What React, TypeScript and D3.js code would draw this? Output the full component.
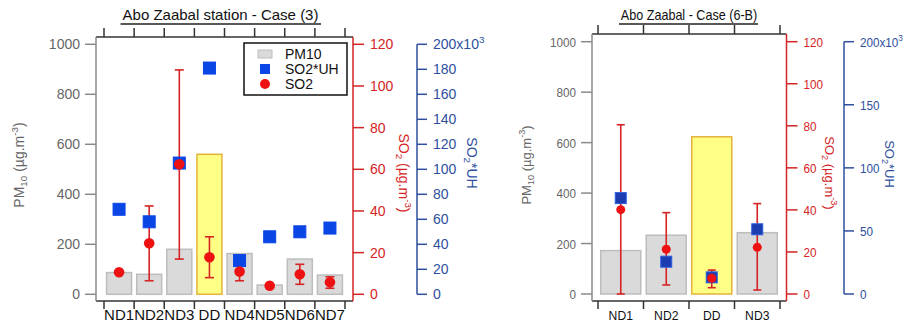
import React from "react";
import * as d3 from "d3";

// ---------- data: left panel ----------
const leftTitle = "Abo Zaabal station - Case (3)";
const leftCategories = ["ND1", "ND2", "ND3", "DD", "ND4", "ND5", "ND6", "ND7"];
const leftPM10 = [87, 80, 180, 560, 163, 37, 141, 77];
const leftSO2UH = [68000, 58000, 105000, 181000, 27000, 46000, 50000, 53000];
const leftSO2 = [10.6, 24.5, 62.4, 17.8, 10.9, 4.1, 9.6, 5.8];
const leftSO2High: (number | null)[] = [null, 42.4, 107.7, 27.6, 16.1, null, 14.4, 8.4];
const leftSO2Low: (number | null)[] = [null, 6.5, 16.9, 8.0, 6.5, null, 4.8, 2.9];

// ---------- data: right panel ----------
const rightTitle = "Abo Zaabal - Case (6-B)";
const rightCategories = ["ND1", "ND2", "DD", "ND3"];
const rightPM10 = [172, 233, 623, 243];
const rightSO2UH = [76000, 25600, 13200, 51300];
const rightSO2 = [40.1, 21.3, 7.5, 22.2];
const rightSO2High: (number | null)[] = [80.5, 38.7, 11.4, 43.0];
const rightSO2Low: (number | null)[] = [0, 4.3, 3.0, 1.9];

// ---------- axis ticks ----------
const pmTicks = [0, 200, 400, 600, 800, 1000];
const so2Ticks = [0, 20, 40, 60, 80, 100, 120];
const leftUHTicks = [0, 20000, 40000, 60000, 80000, 100000, 120000, 140000, 160000, 180000, 200000];
const rightUHTicks = [0, 50000, 100000, 150000, 200000];
const legendLabels = ["PM10", "SO2*UH", "SO2"];

const FONT = "Liberation Sans, Arial, Helvetica, sans-serif";
const RED = "#d42424";
const BLUE_AXIS = "#2e4f9e";
const GREY_AXIS = "#8a8a8a";
const GREY_TEXT = "#666";
const FRAME = "#333";

function T({ x, y, sx = 1, rot = 0, children, ...rest }: any) {
  return (
    <g transform={`translate(${x},${y}) scale(${sx},1) rotate(${rot})`}>
      <text x={0} y={0} fontFamily={FONT} {...rest}>
        {children}
      </text>
    </g>
  );
}

type Cfg = {
  title: string;
  cats: string[];
  pm: number[];
  uh: number[];
  so2: number[];
  hi: (number | null)[];
  lo: (number | null)[];
  uhTicks: number[];
  x0: number; x1: number; top: number; bottom: number;
  bandStart: number; bandEnd: number; pad: number;
  y0: number; y1: number;
  blueX: number;
  fs: number; catFs: number; titleFs: number; sx: number;
  titleX: number; ulX0: number; ulX1: number;
  pmTitleX: number; redTitleX: number; blueTitleX: number; blueTitleY: number;
  sq: number; r: number; cap: number;
  sqFill: string; sqStroke: string;
  legend: boolean;
};

function Panel({ c }: { c: Cfg }) {
  const xb = d3.scaleBand<string>().domain(c.cats).range([c.bandStart, c.bandEnd]).paddingInner(c.pad).paddingOuter(c.pad / 2);
  const yPM = d3.scaleLinear().domain([0, 1000]).range([c.y0, c.y1]);
  const yS = d3.scaleLinear().domain([0, 120]).range([c.y0, c.y1]);
  const yU = d3.scaleLinear().domain([0, 200000]).range([c.y0, c.y1]);
  const step = (c.bandEnd - c.bandStart) / c.cats.length;
  const bounds = d3.range(c.cats.length + 1).map((i) => c.bandStart + i * step);
  const cx = (k: string) => (xb(k) as number) + xb.bandwidth() / 2;
  const redX = c.x1;

  return (
    <g>
      {/* title */}
      <T x={c.titleX} y={19.5} sx={c.sx} fontSize={c.titleFs} textAnchor="middle" fill="#111">{c.title}</T>
      <line x1={c.ulX0} x2={c.ulX1} y1={24} y2={24} stroke="#222" strokeWidth={1.3} />

      {/* bars */}
      {c.cats.map((k, i) => {
        const dd = k === "DD";
        return (
          <rect key={"b" + i} x={xb(k)} y={yPM(c.pm[i])} width={xb.bandwidth()} height={yPM(0) - yPM(c.pm[i])}
            fill={dd ? "#ffff85" : "#dadada"} stroke={dd ? "#e3b23c" : "#bdbdbd"} strokeWidth={1.5} />
        );
      })}

      {/* frame */}
      <line x1={c.x0} x2={c.x1} y1={c.top} y2={c.top} stroke={FRAME} strokeWidth={1.5} />
      <line x1={c.x0} x2={c.x1} y1={c.bottom} y2={c.bottom} stroke={FRAME} strokeWidth={1.5} />
      <line x1={c.x0} x2={c.x0} y1={c.top} y2={c.bottom} stroke={GREY_AXIS} strokeWidth={1.5} />
      {bounds.map((b, i) => (
        <g key={"t" + i}>
          <line x1={b} x2={b} y1={c.top} y2={c.top - 9} stroke={FRAME} strokeWidth={1.5} />
          <line x1={b} x2={b} y1={c.bottom} y2={c.bottom + 8} stroke={FRAME} strokeWidth={1.5} />
        </g>
      ))}
      {c.cats.map((k, i) => (
        <T key={"c" + i} x={cx(k)} y={320} sx={c.sx} fontSize={c.catFs} textAnchor="middle" fill="#111">{k}</T>
      ))}

      {/* left PM axis */}
      {pmTicks.map((t) => (
        <g key={"p" + t}>
          <line x1={c.x0 - 11} x2={c.x0} y1={yPM(t)} y2={yPM(t)} stroke={GREY_AXIS} strokeWidth={1.5} />
          <T x={c.x0 - 16} y={yPM(t) + 5} sx={c.sx} fontSize={c.fs} textAnchor="end" fill={GREY_TEXT}>{t}</T>
        </g>
      ))}
      <T x={c.pmTitleX} y={165} rot={-90} fontSize={c.fs} textAnchor="middle" fill={GREY_TEXT}>
        <tspan>PM</tspan>
        <tspan fontSize={c.fs * 0.7} dy={3}>10</tspan>
        <tspan dy={-3}> (µg.m</tspan>
        <tspan fontSize={c.fs * 0.7} dy={-6}>-3</tspan>
        <tspan dy={6}>)</tspan>
      </T>

      {/* red SO2 axis */}
      <line x1={redX} x2={redX} y1={c.top} y2={c.bottom} stroke={RED} strokeWidth={1.5} />
      {so2Ticks.map((t) => (
        <g key={"r" + t}>
          <line x1={redX} x2={redX + 11} y1={yS(t)} y2={yS(t)} stroke={RED} strokeWidth={1.5} />
          <T x={redX + 17} y={yS(t) + 5} sx={c.sx} fontSize={c.fs} textAnchor="start" fill={RED}>{t}</T>
        </g>
      ))}
      <T x={c.redTitleX} y={173} rot={90} fontSize={c.fs} textAnchor="middle" fill={RED}>
        <tspan>SO</tspan>
        <tspan fontSize={c.fs * 0.7} dy={3}>2</tspan>
        <tspan dy={-3}> (µg.m</tspan>
        <tspan fontSize={c.fs * 0.7} dy={-6}>-3</tspan>
        <tspan dy={6}>)</tspan>
      </T>

      {/* blue SO2*UH axis */}
      <line x1={c.blueX} x2={c.blueX} y1={yU(200000)} y2={yU(0)} stroke={BLUE_AXIS} strokeWidth={1.5} />
      {c.uhTicks.map((t) => (
        <g key={"u" + t}>
          <line x1={c.blueX} x2={c.blueX + 10} y1={yU(t)} y2={yU(t)} stroke={BLUE_AXIS} strokeWidth={1.5} />
          <T x={c.blueX + 16} y={yU(t) + 5} sx={c.sx} fontSize={c.fs} textAnchor="start" fill={BLUE_AXIS}>
            {t === 200000 ? (
              <>
                <tspan>200x10</tspan>
                <tspan fontSize={c.fs * 0.7} dy={-6}>3</tspan>
              </>
            ) : (
              String(t / 1000)
            )}
          </T>
        </g>
      ))}
      <T x={c.blueTitleX} y={c.blueTitleY} rot={90} fontSize={c.fs} textAnchor="middle" fill={BLUE_AXIS}>
        <tspan>SO</tspan>
        <tspan fontSize={c.fs * 0.7} dy={3}>2</tspan>
        <tspan dy={-3}>*UH</tspan>
      </T>

      {/* error bars */}
      {c.cats.map((k, i) => {
        const hi = c.hi[i];
        const lo = c.lo[i];
        if (hi === null || lo === null) return null;
        const x = cx(k);
        return (
          <g key={"e" + i} stroke={RED} strokeWidth={1.6}>
            <line x1={x} x2={x} y1={yS(hi)} y2={yS(lo)} />
            <line x1={x - c.cap / 2} x2={x + c.cap / 2} y1={yS(hi)} y2={yS(hi)} />
            <line x1={x - c.cap / 2} x2={x + c.cap / 2} y1={yS(lo)} y2={yS(lo)} />
          </g>
        );
      })}

      {/* SO2*UH squares */}
      {c.cats.map((k, i) => (
        <rect key={"s" + i} x={cx(k) - c.sq / 2} y={yU(c.uh[i]) - c.sq / 2} width={c.sq} height={c.sq}
          fill={c.sqFill} stroke={c.sqStroke} strokeWidth={1} />
      ))}

      {/* SO2 dots */}
      {c.cats.map((k, i) => (
        <circle key={"d" + i} cx={cx(k)} cy={yS(c.so2[i])} r={c.r} fill="#ee1111" />
      ))}

      {/* legend */}
      {c.legend && (
        <g>
          <rect x={244} y={43} width={103} height={52} fill="#fff" stroke="#111" strokeWidth={1.5} />
          <rect x={258} y={50} width={14} height={8} fill="#dadada" stroke="#bdbdbd" strokeWidth={1} />
          <rect x={260} y={64} width={10} height={10} fill="#0a45e6" />
          <circle cx={265} cy={84} r={5} fill="#ee1111" />
          {legendLabels.map((l, i) => (
            <T key={"l" + i} x={285} y={59 + i * 15} fontSize={14} fill="#111">{l}</T>
          ))}
        </g>
      )}
    </g>
  );
}

const leftCfg: Cfg = {
  title: leftTitle, cats: leftCategories, pm: leftPM10, uh: leftSO2UH, so2: leftSO2, hi: leftSO2High, lo: leftSO2Low,
  uhTicks: leftUHTicks,
  x0: 96, x1: 353, top: 37, bottom: 301, bandStart: 104, bandEnd: 345, pad: 0.17,
  y0: 294.3, y1: 44.3, blueX: 417,
  fs: 14, catFs: 15, titleFs: 15, sx: 1,
  titleX: 220.5, ulX0: 120.5, ulX1: 321,
  pmTitleX: 24, redTitleX: 399, blueTitleX: 467, blueTitleY: 163,
  sq: 12, r: 5.3, cap: 9, sqFill: "#0a45e6", sqStroke: "#0a45e6", legend: true,
};

const rightCfg: Cfg = {
  title: rightTitle, cats: rightCategories, pm: rightPM10, uh: rightSO2UH, so2: rightSO2, hi: rightSO2High, lo: rightSO2Low,
  uhTicks: rightUHTicks,
  x0: 592, x1: 786.5, top: 34, bottom: 301, bandStart: 598, bandEnd: 780, pad: 0.12,
  y0: 294, y1: 41.7, blueX: 844,
  fs: 13, catFs: 13.5, titleFs: 14, sx: 0.9,
  titleX: 689, ulX0: 619, ulX1: 758,
  pmTitleX: 531, redTitleX: 825, blueTitleX: 885, blueTitleY: 164,
  sq: 11, r: 4.5, cap: 8, sqFill: "#1c3db0", sqStroke: "#2a5de0", legend: false,
};

export default function App() {
  return (
    <svg width={907} height={324} style={{ position: "absolute", left: 0, top: 0, background: "#fff" }}>
      <rect x={0} y={0} width={907} height={324} fill="#fff" />
      <Panel c={leftCfg} />
      <Panel c={rightCfg} />
    </svg>
  );
}
